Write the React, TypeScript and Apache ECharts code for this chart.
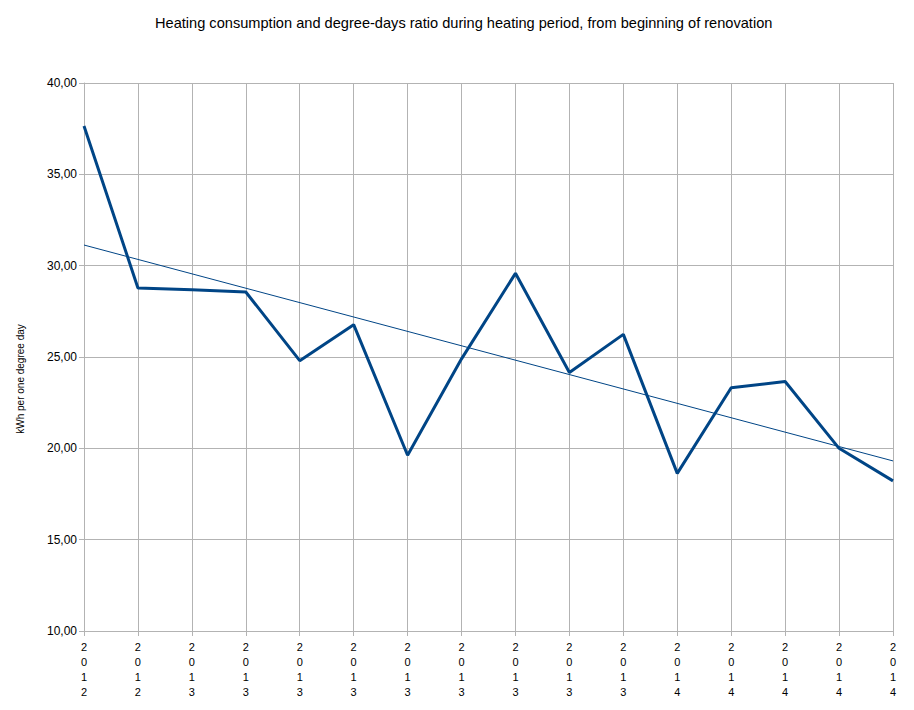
import React, { useEffect, useRef } from "react";
import * as echarts from "echarts";

const categories = ["2012", "2012", "2013", "2013", "2013", "2013", "2013", "2013", "2013", "2013", "2013", "2014", "2014", "2014", "2014", "2014"];
const ratioValues = [37.65, 28.78, 28.68, 28.56, 24.8, 26.77, 19.62, 24.9, 29.58, 24.15, 26.24, 18.63, 23.32, 23.66, 20.0, 18.22];
const trendStart = 31.13;
const trendEnd = 19.31;
const yTicks = { min: 10, max: 40, interval: 5 };
const yAxisName = "kWh per one degree day";

export default function App() {
  const ref = useRef<HTMLDivElement>(null);
  useEffect(() => {
    if (!ref.current) return;
    const chart = echarts.init(ref.current, null, { renderer: "svg" });
    const font = "'Liberation Sans', Arial, sans-serif";
    chart.setOption({
      animation: false,
      backgroundColor: "#ffffff",
      title: {
        text: "Heating consumption and degree-days ratio during heating period, from beginning of renovation",
        left: 150,
        top: 10,
        textStyle: { fontFamily: font, fontSize: 14.6, fontWeight: "normal", color: "#000" },
      },
      graphic: [
        {
          type: "text",
          x: 20,
          y: 379,
          rotation: Math.PI / 2,
          style: {
            text: yAxisName,
            fontFamily: font,
            fontSize: 10,
            fill: "#000",
            textAlign: "center",
            textVerticalAlign: "middle",
          },
        },
      ],
      grid: { left: 84, right: 21, top: 83, bottom: 79 },
      xAxis: {
        type: "category",
        data: categories,
        boundaryGap: false,
        axisLine: { lineStyle: { color: "#b3b3b3" } },
        axisTick: { show: true, length: 5, lineStyle: { color: "#b3b3b3" } },
        splitLine: { show: true, lineStyle: { color: "#b3b3b3" } },
        axisLabel: {
          interval: 0,
          margin: 8,
          fontFamily: font,
          fontSize: 11,
          color: "#000",
          lineHeight: 15,
          formatter: (v: string) => v.split("").join("\n"),
        },
      },
      yAxis: {
        type: "value",
        min: yTicks.min,
        max: yTicks.max,
        interval: yTicks.interval,
        axisLine: { show: true, lineStyle: { color: "#b3b3b3" } },
        axisTick: { show: true, length: 5, lineStyle: { color: "#b3b3b3" } },
        splitLine: { show: true, lineStyle: { color: "#b3b3b3" } },
        axisLabel: {
          margin: 7,
          fontFamily: font,
          fontSize: 12,
          color: "#000",
          formatter: (v: number) => v.toFixed(2).replace(".", ","),
        },
      },
      series: [
        {
          type: "line",
          data: ratioValues,
          showSymbol: false,
          lineStyle: { color: "#004586", width: 3 },
          itemStyle: { color: "#004586" },
          z: 3,
        },
        {
          type: "line",
          data: [
            [0, trendStart],
            [categories.length - 1, trendEnd],
          ],
          showSymbol: false,
          lineStyle: { color: "#004586", width: 1 },
          itemStyle: { color: "#004586" },
          z: 2,
        },
      ],
    });
    return () => chart.dispose();
  }, []);
  return <div ref={ref} style={{ width: 914, height: 710, position: "absolute", left: 0, top: 0 }} />;
}
